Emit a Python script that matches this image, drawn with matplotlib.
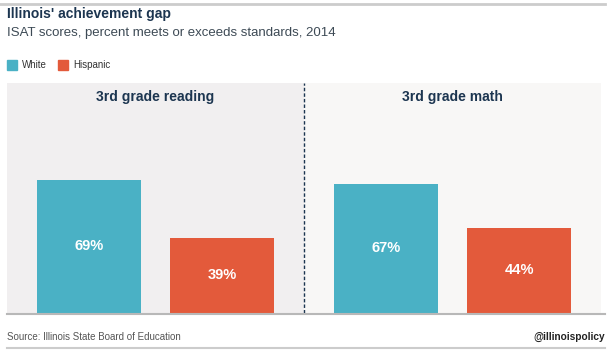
import matplotlib.pyplot as plt
from matplotlib.lines import Line2D
import numpy as np

# data
groups = ['3rd grade reading', '3rd grade math']
series = ['White', 'Hispanic']
white = [69, 67]
hispanic = [39, 44]
colors = ['#4ab1c5', '#e35a3b']
panel_bg = ['#f1eff0', '#f8f7f6']
navy = '#1c3550'

plt.rcParams['font.family'] = ['Liberation Sans', 'DejaVu Sans']

W, H = 614, 351
fig = plt.figure(figsize=(W / 100, H / 100), dpi=100)

# main axes covers both panels
ax = fig.add_axes([7 / W, (H - 313) / H, (601 - 7) / W, (313 - 83) / H])
x = np.arange(len(groups))
ax.set_xlim(-0.5, len(groups) - 0.5)
ax.set_ylim(0, 119)

for i in range(len(groups)):
    ax.axvspan(i - 0.5, i + 0.5, color=panel_bg[i], zorder=0, lw=0)
    ax.text(i, 111.5, groups[i], ha='center', va='center', fontsize=10,
            fontweight='bold', color=navy)

off, bw = 0.225, 0.35
for vals, c, d in [(white, colors[0], -off), (hispanic, colors[1], off)]:
    bars = ax.bar(x + d, vals, width=bw, color=c, zorder=2)
    for b, v in zip(bars, vals):
        ax.text(b.get_x() + b.get_width() / 2, v / 2, f'{v}%', ha='center',
                va='center', color='white', fontsize=10.5, fontweight='bold', zorder=3)

# dashed divider between panels
ax.axvline(0.5, color=navy, lw=1, ls=(0, (2.5, 1.5)), zorder=1)

for s in ax.spines.values():
    s.set_visible(False)
ax.set_xticks([])
ax.set_yticks([])

# baseline and top/bottom rules
fig.add_artist(Line2D([7 / W, 605 / W], [(H - 313.5) / H] * 2, color='#b8b8b8', lw=1.5))
fig.add_artist(Line2D([0, 605 / W], [(H - 4) / H] * 2, color='#cccccc', lw=2))
fig.add_artist(Line2D([7 / W, 605 / W], [(H - 348) / H] * 2, color='#cccccc', lw=1.5))

# titles
fig.text(7 / W, (H - 14) / H, "Illinois' achievement gap", fontsize=10,
         fontweight='bold', color=navy, va='center')
fig.text(7 / W, (H - 33) / H, 'ISAT scores, percent meets or exceeds standards, 2014',
         fontsize=9.5, color='#3d4a55', va='center')

# legend
lx = [7, 58]
for i, name in enumerate(series):
    fig.patches.append(plt.Rectangle((lx[i] / W, (H - 70) / H), 10 / W, 10 / H,
                                     transform=fig.transFigure, color=colors[i]))
    fig.text((lx[i] + 15) / W, (H - 65) / H, name, fontsize=7, color='#333333', va='center')

# footer
fig.text(7 / W, (H - 337) / H, 'Source: Illinois State Board of Education',
         fontsize=7, color='#555555', va='center')
fig.text(605 / W, (H - 337) / H, '@illinoispolicy', fontsize=7.3,
         fontweight='bold', color='#222222', va='center', ha='right')

fig.savefig('out.png', dpi=100, facecolor='white')
